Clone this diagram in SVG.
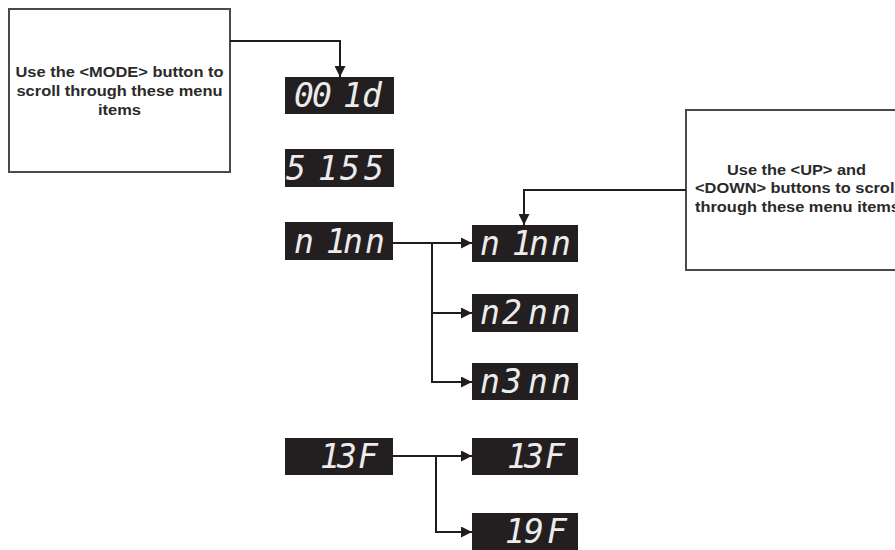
<svg xmlns="http://www.w3.org/2000/svg" width="895" height="550" viewBox="0 0 895 550">
<style>
.note{fill:#fff;stroke:#4a4a4a;stroke-width:2}
.nt{font-family:"Liberation Sans",Arial,sans-serif;font-weight:bold;font-size:14px;fill:#2a2a2a;text-anchor:start}
.disp{fill:#231f20}
.seg{font-family:"DejaVu Sans Mono",monospace;font-style:italic;font-size:33px;fill:#ececec}
.conn{fill:none;stroke:#1e1e1e;stroke-width:2}
</style>
<defs>
<marker id="arr" viewBox="0 0 10 10" refX="10" refY="5" markerWidth="11" markerHeight="11" markerUnits="userSpaceOnUse" orient="auto">
<path d="M0,0 L10,5 L0,10 z" fill="#1e1e1e"/>
</marker>
</defs>
<rect width="895" height="550" fill="#fff"/>

<g id="note-mode">
<rect class="note" x="9" y="9" width="221" height="163"/>
<text class="nt" x="15.5" y="77" textLength="208" lengthAdjust="spacingAndGlyphs">Use the &lt;MODE&gt; button to</text>
<text class="nt" x="16.5" y="96" textLength="206" lengthAdjust="spacingAndGlyphs">scroll through these menu</text>
<text class="nt" x="98" y="115" textLength="43" lengthAdjust="spacingAndGlyphs">items</text>
</g>

<g id="note-updown">
<rect class="note" x="686" y="110" width="220" height="160"/>
<text class="nt" x="727" y="175" textLength="139" lengthAdjust="spacingAndGlyphs">Use the &lt;UP&gt; and</text>
<text class="nt" x="695" y="193" textLength="204" lengthAdjust="spacingAndGlyphs">&lt;DOWN&gt; buttons to scroll</text>
<text class="nt" x="695" y="212" textLength="205" lengthAdjust="spacingAndGlyphs">through these menu items</text>
</g>

<g id="d-001d">
<rect class="disp" x="285" y="77" width="109" height="37"/>
<text class="seg" x="294 312 343 362" y="107">001d</text>
</g>
<g id="d-5155">
<rect class="disp" x="285" y="149" width="109" height="38"/>
<text class="seg" x="286 318 340 364" y="180">5155</text>
</g>
<g id="d-n1nn-a">
<rect class="disp" x="285" y="222" width="108" height="38"/>
<text class="seg" x="294 326 343 365" y="253">n1nn</text>
</g>
<g id="d-n1nn-b">
<rect class="disp" x="472" y="225" width="106" height="37"/>
<text class="seg" x="480 512 529 551" y="255">n1nn</text>
</g>
<g id="d-n2nn">
<rect class="disp" x="472" y="294" width="106" height="38"/>
<text class="seg" x="480 502 528 551" y="324">n2nn</text>
</g>
<g id="d-n3nn">
<rect class="disp" x="472" y="363" width="106" height="37"/>
<text class="seg" x="480 502 528 551" y="393">n3nn</text>
</g>
<g id="d-13F-a">
<rect class="disp" x="285" y="438" width="108" height="37"/>
<text class="seg" x="320 337 358" y="468">13F</text>
</g>
<g id="d-13F-b">
<rect class="disp" x="472" y="438" width="106" height="37"/>
<text class="seg" x="507 524 545" y="468">13F</text>
</g>
<g id="d-19F">
<rect class="disp" x="472" y="513" width="106" height="37"/>
<text class="seg" x="505 524 547" y="543">19F</text>
</g>

<g id="connectors">
<path class="conn" d="M230,41 H340 V77" marker-end="url(#arr)"/>
<path class="conn" d="M686,190 H524 V225" marker-end="url(#arr)"/>
<path class="conn" d="M393,243 H472" marker-end="url(#arr)"/>
<path class="conn" d="M432,243 V313 H472" marker-end="url(#arr)"/>
<path class="conn" d="M432,313 V382 H472" marker-end="url(#arr)"/>
<path class="conn" d="M393,456 H472" marker-end="url(#arr)"/>
<path class="conn" d="M436,456 V532 H472" marker-end="url(#arr)"/>
</g>
</svg>
